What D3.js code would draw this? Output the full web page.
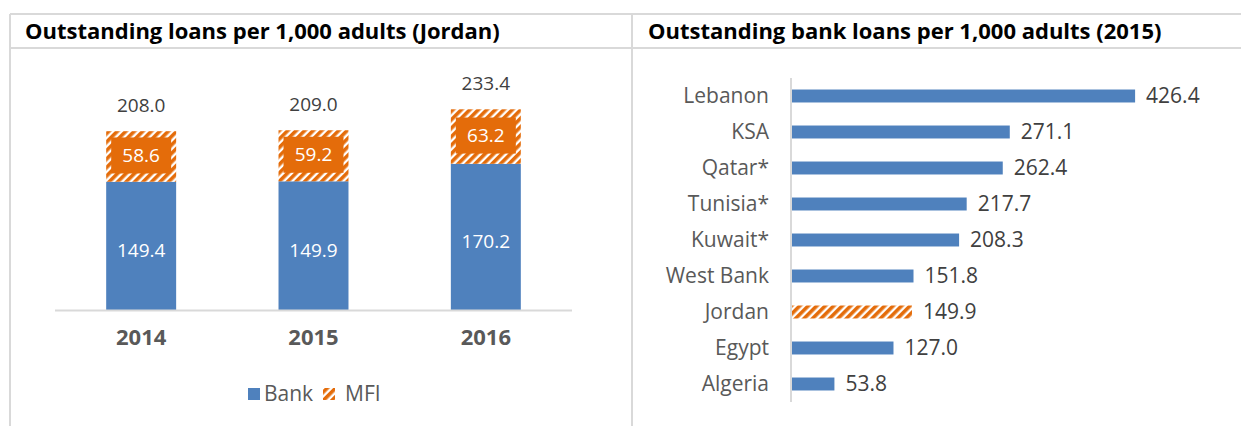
<!DOCTYPE html>
<html><head><meta charset="utf-8">
<script src="https://cdn.jsdelivr.net/npm/d3@7"></script>
<style>
html,body{margin:0;padding:0;background:#fff;}
svg{display:block;font-family:"Open Sans","Noto Sans",sans-serif;}
</style></head>
<body>
<svg id="c" width="1241" height="426"></svg>
<script>
const years = ["2014","2015","2016"];
const bankVals = [149.4, 149.9, 170.2];
const mfiVals = [58.6, 59.2, 63.2];
const totalVals = [208.0, 209.0, 233.4];
const leftTitle = "Outstanding loans per 1,000 adults (Jordan)";
const rightTitle = "Outstanding bank loans per 1,000 adults (2015)";
const countries = ["Lebanon","KSA","Qatar*","Tunisia*","Kuwait*","West Bank","Jordan","Egypt","Algeria"];
const countryVals = [426.4, 271.1, 262.4, 217.7, 208.3, 151.8, 149.9, 127.0, 53.8];
const highlight = "Jordan";
const legendLabels = ["Bank","MFI"];

const BLUE = "#4F81BD", ORANGE = "#E46C0A", GRID = "#D9D9D9";
const FF = "'Open Sans','Noto Sans',sans-serif";
const svg = d3.select("#c");

// pattern
const defs = svg.append("defs");
const pat = defs.append("pattern").attr("id","hatch").attr("patternUnits","userSpaceOnUse")
  .attr("width",6).attr("height",6).attr("patternTransform","rotate(45)");
pat.append("rect").attr("width",6).attr("height",6).attr("fill","#fff");
pat.append("rect").attr("width",3.6).attr("height",6).attr("fill",ORANGE);

// frame lines
const frame = svg.append("g").attr("stroke",GRID).attr("stroke-width",2).attr("fill","none");
frame.append("line").attr("x1",10).attr("x2",1241).attr("y1",14).attr("y2",14);
frame.append("line").attr("x1",10).attr("x2",1241).attr("y1",48).attr("y2",48);
frame.append("line").attr("x1",10).attr("x2",10).attr("y1",14).attr("y2",426);
frame.append("line").attr("x1",632).attr("x2",632).attr("y1",14).attr("y2",426);

svg.append("text").attr("x",25).attr("y",39).attr("font-size",22).attr("font-weight","bold")
  .attr("fill","#000").text(leftTitle);
svg.append("text").attr("x",648).attr("y",39).attr("font-size",22).attr("font-weight","bold")
  .attr("fill","#000").text(rightTitle);

// LEFT CHART
const x = d3.scaleBand().domain(years).range([55,572]).paddingInner(0.594).paddingOuter(0.297);
const y = d3.scaleLinear().domain([0,250]).range([310.5,95]);
const L = svg.append("g");
years.forEach((yr,i)=>{
  const x0 = x(yr), bw = x.bandwidth();
  L.append("rect").attr("x",x0).attr("width",bw).attr("y",y(bankVals[i])).attr("height",y(0)-y(bankVals[i])).attr("fill",BLUE);
  const top = y(bankVals[i]+mfiVals[i]), bot = y(bankVals[i]);
  L.append("rect").attr("x",x0).attr("width",bw).attr("y",top).attr("height",bot-top).attr("fill","url(#hatch)");
  const bh = 36, bwid = bw-10, cy = (top+bot)/2 - 1;
  L.append("rect").attr("x",x0+5).attr("width",bwid).attr("y",cy-bh/2).attr("height",bh).attr("fill",ORANGE);
  L.append("text").attr("x",x0+bw/2).attr("y",cy).attr("dy","0.35em").attr("text-anchor","middle")
    .attr("font-size",19).attr("fill","#fff").text(mfiVals[i].toFixed(1));
  L.append("text").attr("x",x0+bw/2).attr("y",(bot+y(0))/2+4).attr("dy","0.35em").attr("text-anchor","middle")
    .attr("font-size",19).attr("fill","#fff").text(bankVals[i].toFixed(1));
  L.append("text").attr("x",x0+bw/2).attr("y",top-26).attr("dy","0.35em").attr("text-anchor","middle")
    .attr("font-size",19).attr("fill","#404040").text(totalVals[i].toFixed(1));
});
const xAxis = L.append("g").attr("transform","translate(0,310.5)").call(d3.axisBottom(x).tickSize(0).tickPadding(19));
xAxis.select(".domain").attr("stroke",GRID).attr("stroke-width",2).attr("d","M55,0H572");
xAxis.selectAll("text").attr("font-size",22).attr("font-weight","bold").attr("fill","#595959")
  .attr("font-family",FF);

// legend
const lg = L.append("g");
lg.append("rect").attr("x",248).attr("y",388).attr("width",12).attr("height",12).attr("fill",BLUE);
lg.append("text").attr("x",264).attr("y",394).attr("dy","0.35em").attr("font-size",21).attr("fill","#595959").text(legendLabels[0]);
lg.append("rect").attr("x",323).attr("y",388).attr("width",12).attr("height",12).attr("fill","url(#hatch)");
lg.append("text").attr("x",345).attr("y",394).attr("dy","0.35em").attr("font-size",21).attr("fill","#595959").text(legendLabels[1]);

// RIGHT CHART
const xr = d3.scaleLinear().domain([0,450]).range([791,791+450*0.807]);
const yr = d3.scaleBand().domain(countries).range([78,402]).paddingInner(0.64).paddingOuter(0.32);
const R = svg.append("g");
countries.forEach((c,i)=>{
  R.append("rect").attr("x",xr(0)).attr("y",yr(c)).attr("height",yr.bandwidth())
    .attr("width",xr(countryVals[i])-xr(0)).attr("fill",c===highlight?"url(#hatch)":BLUE);
  R.append("text").attr("x",xr(countryVals[i])+11).attr("y",yr(c)+yr.bandwidth()/2).attr("dy","0.35em")
    .attr("font-size",21).attr("fill","#404040").text(countryVals[i].toFixed(1));
});
const yAxis = R.append("g").attr("transform","translate(791,0)").call(d3.axisLeft(yr).tickSize(0).tickPadding(22));
yAxis.select(".domain").attr("stroke",GRID).attr("stroke-width",2).attr("d","M0,78V402");
yAxis.selectAll("text").attr("font-size",21).attr("fill","#595959").attr("font-family",FF);
</script>
</body></html>
